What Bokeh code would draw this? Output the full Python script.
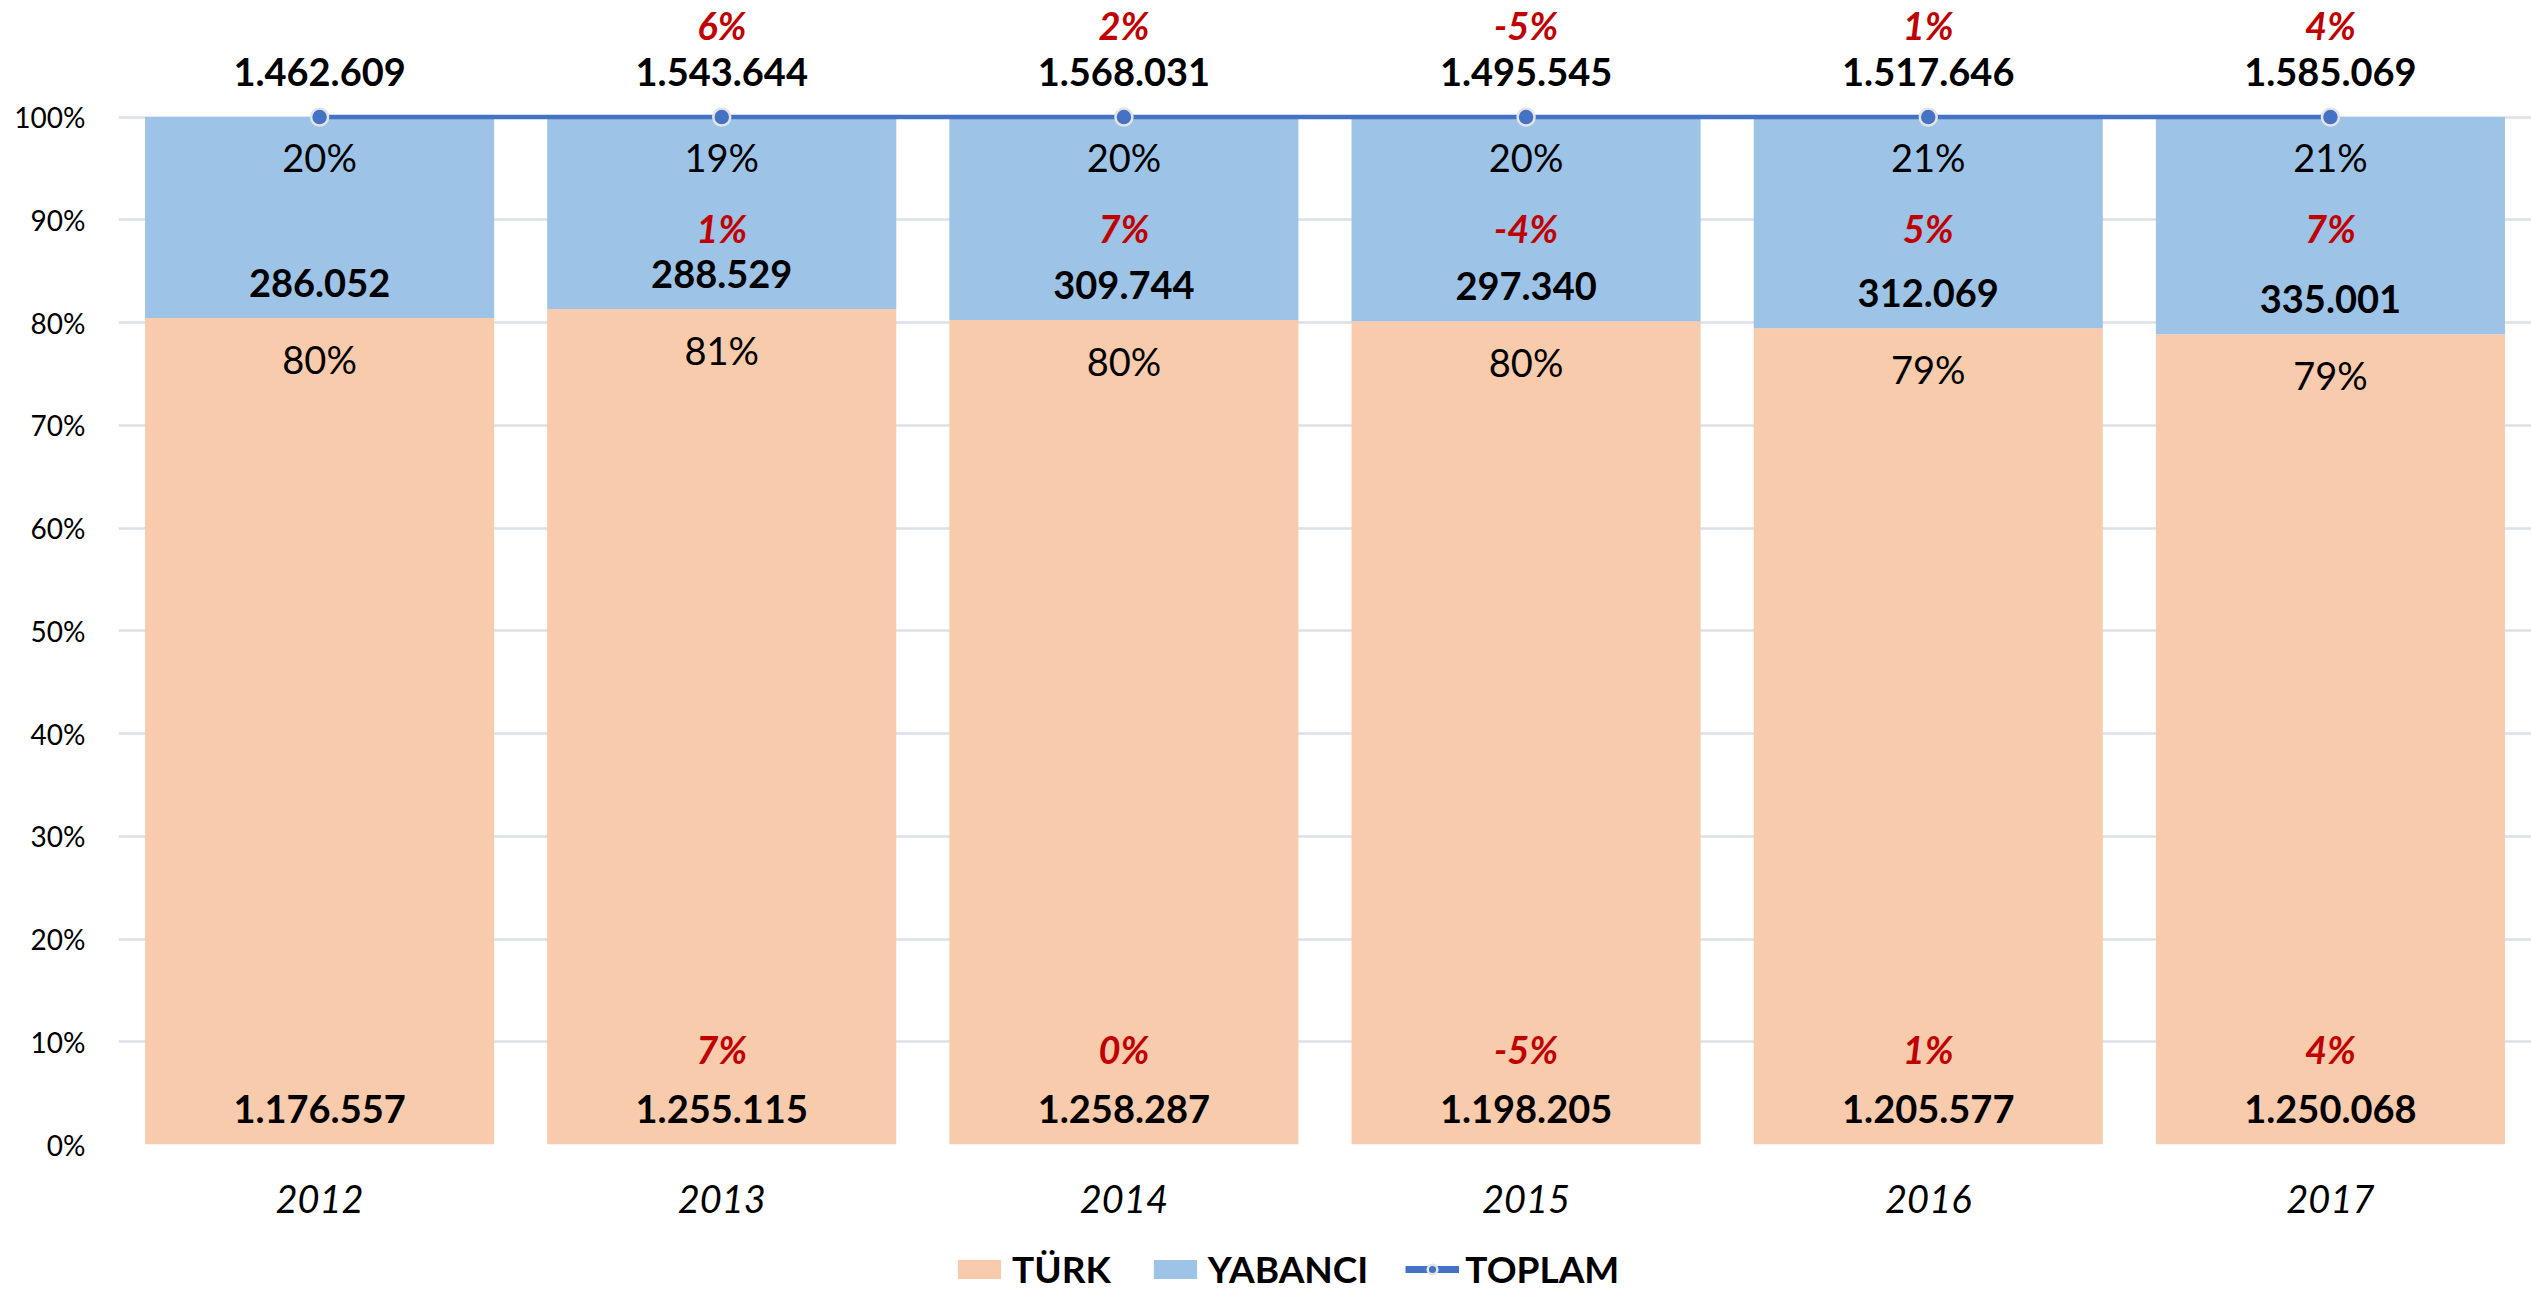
from bokeh.plotting import figure
from bokeh.layouts import column
from bokeh.models import (FactorRange, Range1d, FixedTicker, Legend, LegendItem,
                          ColumnDataSource, PrintfTickFormatter)
from bokeh.core.properties import value
from bokeh.embed import file_html
from bokeh.resources import INLINE

# ---- data ----
years = ["2012", "2013", "2014", "2015", "2016", "2017"]
turk = [1176557, 1255115, 1258287, 1198205, 1205577, 1250068]
yabanci = [286052, 288529, 309744, 297340, 312069, 335001]
toplam = [1462609, 1543644, 1568031, 1495545, 1517646, 1585069]
turk_growth = ["", "7%", "0%", "-5%", "1%", "4%"]
yabanci_growth = ["", "1%", "7%", "-4%", "5%", "7%"]
toplam_growth = ["", "6%", "2%", "-5%", "1%", "4%"]
y_ticks = [0, 10, 20, 30, 40, 50, 60, 70, 80, 90, 100]
series_names = ["TÜRK", "YABANCI", "TOPLAM"]

# ---- derived ----
def fmt(v):
    return f"{v:,}".replace(",", ".")

turk_share = [t / s * 100 for t, s in zip(turk, toplam)]
total_share = [s / s * 100 for s in toplam]

FNAME = "Lato"
FONT = value(FNAME)
BLACK = "#000000"
RED = "#C00000"
ORANGE = "#F8CBAD"
BLUE = "#9DC3E6"
LINE = "#4472C4"
FS = "38px"

src = ColumnDataSource(dict(
    x=years,
    ts=turk_share,
    tot=total_share,
    turk_lbl=[fmt(v) for v in turk],
    yab_lbl=[fmt(v) for v in yabanci],
    top_lbl=[fmt(v) for v in toplam],
    turk_pct=[f"{round(v)}%" for v in turk_share],
    yab_pct=[f"{round(t - v)}%" for t, v in zip(total_share, turk_share)],
    tg=turk_growth, yg=yabanci_growth, pg=toplam_growth,
    y_top_lbl=[104.4] * 6,
    y_top_g=[108.95] * 6,
    y_yab_pct=[96.15] * 6,
    y_yab_g=[89.2] * 6,
    y_yab_val=[v + 3.45 for v in turk_share],
    y_turk_pct=[v - 3.95 for v in turk_share],
    y_turk_g=[9.25] * 6,
    y_turk_val=[3.45] * 6,
))

W_TOTAL = 2531
H_MAIN = 1245
H_LEG = 48

p = figure(x_range=FactorRange(*years), y_range=Range1d(0, 111.34),
           width=W_TOTAL, height=H_MAIN, output_backend="svg",
           toolbar_location=None,
           min_border_left=118, min_border_right=0, min_border_top=0,
           min_border_bottom=H_MAIN - 1144)
p.outline_line_color = None
p.background_fill_color = "white"

# axes
p.yaxis.ticker = FixedTicker(ticks=y_ticks)
p.yaxis.formatter = PrintfTickFormatter(format="%d%%")
p.yaxis.axis_line_color = None
p.yaxis.major_tick_line_color = None
p.yaxis.minor_tick_line_color = None
p.yaxis.major_label_text_font = FNAME
p.yaxis.major_label_text_font_size = "28px"
p.yaxis.major_label_text_color = BLACK
p.yaxis.major_label_standoff = 27

p.xaxis.axis_line_color = None
p.xaxis.major_tick_line_color = None
p.xaxis.major_label_text_font = FNAME
p.xaxis.major_label_text_font_size = "38px"
p.xaxis.major_label_text_font_style = "italic"
p.xaxis.major_label_text_color = BLACK
p.xaxis.major_label_standoff = 34

p.xgrid.grid_line_color = None
p.ygrid.grid_line_color = "#DCE1E8"
p.ygrid.grid_line_width = 2.5

# bars
W = 0.868
p.vbar(x="x", bottom=0, top="ts", width=W, source=src,
       fill_color=ORANGE, line_color=None)
p.vbar(x="x", bottom="ts", top="tot", width=W, source=src,
       fill_color=BLUE, line_color=None)

# total line
p.line(x="x", y="tot", source=src, line_color=LINE, line_width=4.5)
p.scatter(x="x", y="tot", source=src, size=17, fill_color=LINE,
          line_color="#E4E4E4", line_width=2.5)

# labels
def lbl(ycol, tcol, color, style):
    p.text(x="x", y=ycol, text=tcol, source=src, text_align="center",
           text_baseline="middle", text_font=FONT, text_font_size=FS,
           text_color=color, text_font_style=style)

lbl("y_top_lbl", "top_lbl", BLACK, "bold")
lbl("y_top_g", "pg", RED, "bold italic")
lbl("y_yab_pct", "yab_pct", BLACK, "normal")
lbl("y_yab_g", "yg", RED, "bold italic")
lbl("y_yab_val", "yab_lbl", BLACK, "bold")
lbl("y_turk_pct", "turk_pct", BLACK, "normal")
lbl("y_turk_g", "tg", RED, "bold italic")
lbl("y_turk_val", "turk_lbl", BLACK, "bold")

# ---- legend strip (separate figure below, proxies drawn off-range) ----
q = figure(width=W_TOTAL, height=H_LEG, output_backend="svg",
           toolbar_location=None, x_range=Range1d(0, 1), y_range=Range1d(0, 1),
           x_axis_location=None, y_axis_location=None,
           min_border_left=118, min_border_right=0, min_border_top=0,
           min_border_bottom=0)
q.outline_line_color = None
q.xgrid.visible = False
q.ygrid.visible = False
l_turk = q.vbar(x=[-5], top=[-5], width=0.1, fill_color=ORANGE, line_color=None)
l_yab = q.vbar(x=[-5], top=[-5], width=0.1, fill_color=BLUE, line_color=None)
l_line = q.line(x=[-5, -4], y=[-5, -5], line_color=LINE, line_width=7)
l_pts = q.scatter(x=[-5], y=[-5], size=19, fill_color=LINE,
                  line_color="#E4E4E4", line_width=2.5)

legend = Legend(items=[
    LegendItem(label=series_names[0], renderers=[l_turk]),
    LegendItem(label=series_names[1], renderers=[l_yab]),
    LegendItem(label=series_names[2], renderers=[l_line, l_pts]),
], orientation="horizontal", location=(834, 2),
    label_text_font=FNAME, label_text_font_size="37px",
    label_text_font_style="bold", label_text_color=BLACK,
    border_line_color=None, background_fill_alpha=0,
    padding=0, margin=0, glyph_width=54, glyph_height=24,
    label_standoff=6, spacing=37)
q.add_layout(legend)

layout = column(p, q, spacing=0)
open("out.html", "w").write(file_html(layout, INLINE))
